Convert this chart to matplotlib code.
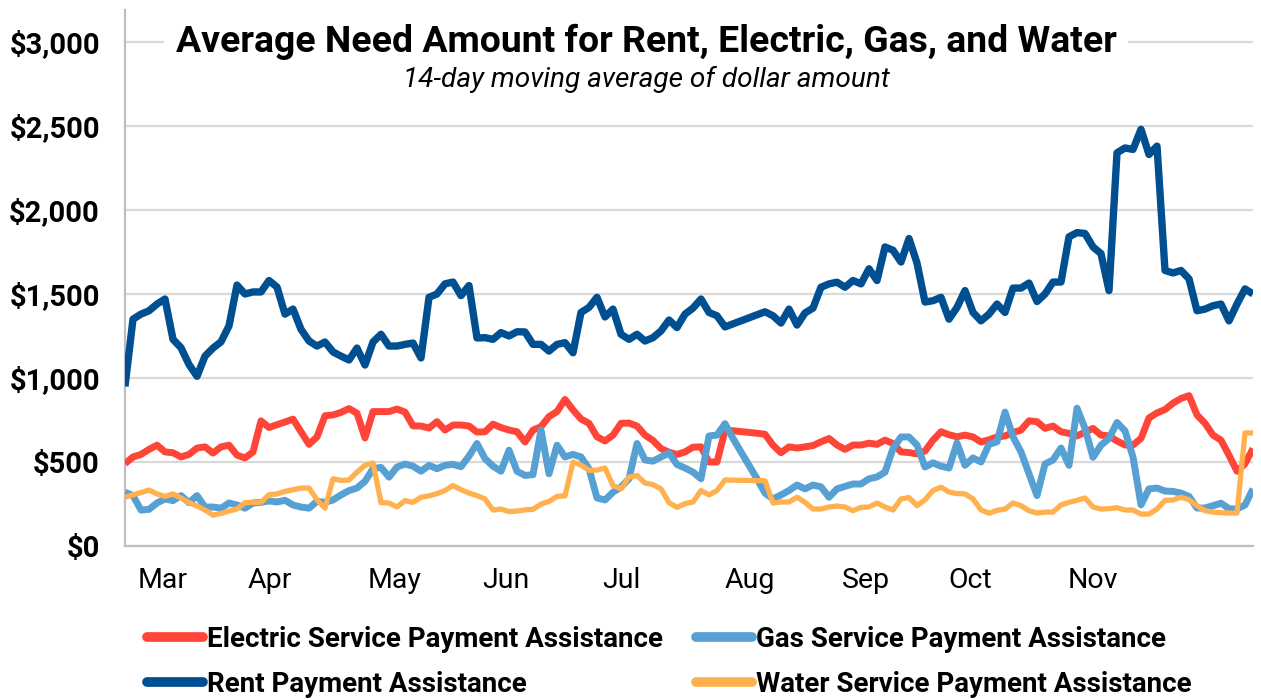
import matplotlib
matplotlib.use("Agg")
import matplotlib.pyplot as plt
import numpy as np

plt.rcParams['font.family'] = ['Roboto', 'DejaVu Sans']

rent = [950, 1350, 1380, 1400, 1440, 1470, 1230, 1180, 1080, 1010,
        1130, 1178, 1215, 1310, 1553, 1500, 1512, 1512, 1580, 1541,
        1380, 1410, 1290, 1220, 1190, 1214, 1155, 1130, 1107, 1178,
        1077, 1214, 1260, 1190, 1190, 1200, 1208, 1119, 1480, 1500,
        1560, 1571, 1490, 1550, 1238, 1240, 1230, 1270, 1250, 1275,
        1274, 1200, 1200, 1160, 1200, 1210, 1150, 1390, 1420, 1480,
        1363, 1410, 1260, 1230, 1260, 1220, 1240, 1280, 1345, 1300,
        1380, 1416, 1470, 1390, 1370, 1304, 1322, 1340, 1358, 1376,
        1394, 1370, 1327, 1410, 1315, 1387, 1416, 1540, 1560, 1570,
        1540, 1580, 1560, 1650, 1580, 1780, 1760, 1690, 1830, 1684,
        1452, 1460, 1480, 1350, 1420, 1520, 1390, 1340, 1380, 1440,
        1390, 1535, 1535, 1565, 1455, 1500, 1571, 1571, 1840, 1865,
        1860, 1780, 1740, 1520, 2340, 2369, 2360, 2480, 2330, 2380,
        1640, 1625, 1640, 1590, 1400, 1410, 1430, 1440, 1340, 1440,
        1530, 1500]

electric = [490, 530, 545, 575, 600, 560, 555, 530, 545, 583,
            590, 553, 590, 600, 541, 524, 560, 745, 705, 722,
            738, 755, 680, 605, 649, 775, 780, 795, 818, 790,
            643, 800, 800, 800, 815, 797, 715, 714, 702, 740,
            690, 720, 720, 714, 678, 680, 725, 705, 690, 680,
            619, 690, 710, 770, 800, 872, 810, 756, 730, 650,
            625, 660, 730, 732, 714, 660, 628, 580, 558, 545,
            560, 588, 590, 500, 500, 688, 686, 681, 676, 671,
            665, 600, 555, 590, 583, 590, 598, 620, 640, 601,
            575, 601, 601, 612, 605, 630, 610, 560, 556, 548,
            565, 630, 680, 662, 650, 660, 649, 619, 632, 649,
            655, 675, 690, 745, 740, 700, 714, 680, 670, 655,
            678, 700, 660, 655, 625, 601, 601, 640, 762, 792,
            812, 850, 878, 895, 780, 730, 660, 630, 540, 445,
            490, 580]

gas = [320, 300, 214, 218, 256, 280, 270, 300, 258, 300,
       232, 232, 225, 256, 244, 225, 256, 260, 268, 262,
       272, 244, 232, 225, 266, 260, 274, 304, 330, 345,
       385, 460, 468, 410, 470, 488, 475, 445, 480, 460,
       480, 486, 472, 535, 610, 520, 475, 445, 570, 445,
       420, 425, 690, 430, 600, 530, 545, 530, 460, 286,
       274, 320, 351, 400, 610, 512, 505, 530, 553, 485,
       464, 440, 400, 655, 660, 728, 640, 560, 480, 400,
       315, 280, 304, 330, 363, 340, 363, 352, 290, 340,
       355, 369, 369, 400, 411, 440, 580, 649, 649, 601,
       470, 495, 475, 464, 613, 480, 524, 500, 605, 620,
       797, 650, 560, 430, 300, 488, 512, 583, 480, 820,
       700, 528, 600, 640, 735, 685, 530, 245, 340, 345,
       327, 325, 315, 295, 226, 226, 240, 255, 222, 220,
       244, 340]

water = [290, 305, 318, 333, 310, 295, 310, 285, 258, 238,
         214, 184, 194, 208, 220, 258, 260, 260, 305, 310,
         325, 335, 345, 345, 275, 225, 400, 390, 393, 440,
         480, 494, 258, 256, 232, 270, 260, 290, 298, 312,
         330, 360, 335, 315, 300, 280, 214, 220, 205, 208,
         215, 218, 250, 265, 295, 298, 500, 482, 450, 452,
         464, 360, 340, 410, 420, 375, 365, 340, 258, 230,
         252, 262, 330, 304, 330, 393, 392, 391, 390, 389,
         388, 256, 262, 262, 290, 260, 220, 220, 232, 238,
         232, 210, 230, 232, 256, 232, 214, 280, 288, 240,
         275, 330, 350, 321, 312, 310, 280, 215, 195, 212,
         220, 256, 240, 210, 196, 202, 202, 244, 260, 272,
         286, 232, 220, 222, 228, 214, 214, 190, 190, 220,
         272, 274, 290, 275, 240, 210, 202, 198, 196, 196,
         673, 673]

month_labels = ['Mar', 'Apr', 'May', 'Jun', 'Jul', 'Aug', 'Sep', 'Oct', 'Nov']
month_pos = [4.75, 18.1, 33.75, 47.6, 62.1, 78.1, 92.6, 105.6, 121.0]
y_ticks = [0, 500, 1000, 1500, 2000, 2500, 3000]

series_names = ['Electric Service Payment Assistance', 'Gas Service Payment Assistance',
                'Rent Payment Assistance', 'Water Service Payment Assistance']
colors = ['#FF4438', '#56A0D3', '#004F91', '#FFB04F']
widths = [5.0, 5.0, 5.3, 3.8]

W, H = 1261, 699
fig = plt.figure(figsize=(W / 100, H / 100), dpi=100)
ax = fig.add_axes([125 / W, 1 - 546 / H, (1253 - 125) / W, (546 - 10) / H])

x = np.arange(len(rent))
lines = []
for vals, c, lw, name in zip([electric, gas, rent, water], colors, widths, series_names):
    ln, = ax.plot(x, vals, color=c, lw=lw, solid_joinstyle='round',
                  solid_capstyle='butt', label=name, zorder=3)
    lines.append(ln)

ax.set_xlim(0, len(rent) - 1)
ax.set_ylim(0, 3190)
ax.set_yticks(y_ticks)
ax.set_yticklabels(['${:,}'.format(v) for v in y_ticks], fontsize=21, fontweight='bold')
ax.set_xticks(month_pos)
ax.set_xticklabels(month_labels, fontsize=20.5)
ax.tick_params(axis='y', length=0, pad=18)
ax.tick_params(axis='x', length=0, pad=15)
ax.grid(axis='y', color='#D9D9D9', lw=1.6, zorder=0)
ax.set_axisbelow(True)
for s in ['top', 'right']:
    ax.spines[s].set_visible(False)
for s in ['left', 'bottom']:
    ax.spines[s].set_color('#BFBFBF')
    ax.spines[s].set_linewidth(1.6)

fig.text(646 / W, 1 - 42 / H, 'Average Need Amount for Rent, Electric, Gas, and Water',
         ha='center', va='center', fontsize=26.9, fontweight='bold',
         bbox=dict(facecolor='white', edgecolor='none', pad=8), zorder=5)
fig.text(646 / W, 1 - 79 / H, '14-day moving average of dollar amount',
         ha='center', va='center', fontsize=20.2, style='italic', zorder=6)

order = [0, 2, 1, 3]
leg = fig.legend([lines[i] for i in order], [series_names[i] for i in order],
                 ncol=2, loc='upper left', bbox_to_anchor=(147 / W, 1 - 626 / H),
                 frameon=False, prop=dict(family='Roboto', weight='bold', size=20),
                 handlelength=2.0, handletextpad=0.15, columnspacing=1.2,
                 labelspacing=0.63, borderpad=0, borderaxespad=0)
for h in leg.get_lines():
    h.set_linewidth(7)
    h.set_solid_capstyle('round')

fig.savefig('out.png', dpi=100)
